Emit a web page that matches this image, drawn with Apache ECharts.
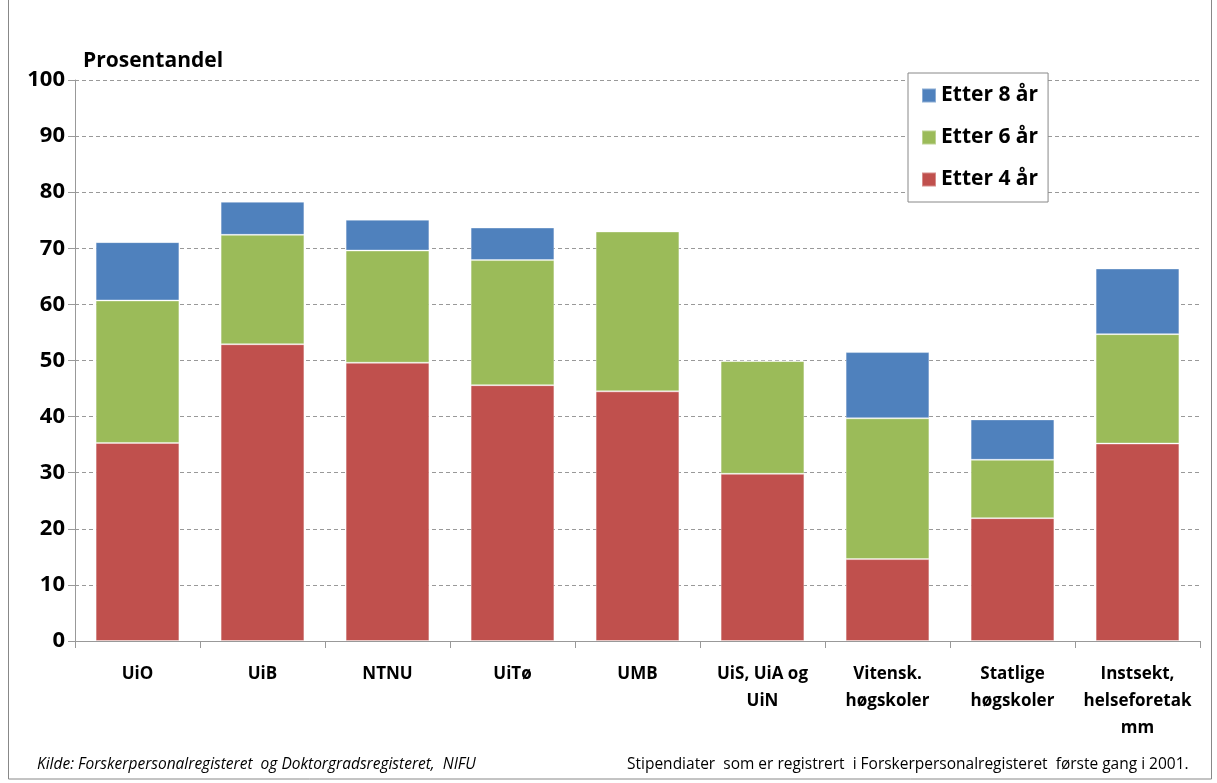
<!DOCTYPE html>
<html><head><meta charset="utf-8">
<script src="https://cdn.jsdelivr.net/npm/echarts@6/dist/echarts.min.js"></script>
<style>html,body{margin:0;padding:0;background:#fff}#c{width:1217px;height:783px}</style>
</head><body><div id="c"></div>
<script>
const categories = ['UiO','UiB','NTNU','UiTø','UMB','UiS, UiA og\nUiN','Vitensk.\nhøgskoler','Statlige\nhøgskoler','Instsekt,\nhelseforetak\nmm'];
const etter4 = [35.3, 52.9, 49.6, 45.6, 44.5, 29.8, 14.6, 21.9, 35.2];
const etter6 = [25.4, 19.5, 20.0, 22.3, 28.5, 20.1, 25.1, 10.4, 19.5];
const etter8 = [10.4, 5.9, 5.5, 5.8, 0, 0, 11.8, 7.2, 11.7];
const yTicks = [0,10,20,30,40,50,60,70,80,90,100];

const font = 'Open Sans, Liberation Sans, sans-serif';
const chart = echarts.init(document.getElementById('c'));
const bar = (name, data, color) => ({
  name, type: 'bar', stack: 's', data, barWidth: '67%',
  itemStyle: { color, borderColor: 'rgba(255,255,255,0.35)', borderWidth: 1 },
  emphasis: { disabled: true }
});
chart.setOption({
  animation: false,
  grid: { left: 75, right: 17, top: 80, bottom: 142 },
  title: { text: 'Prosentandel', left: 78, top: 46,
    textStyle: { fontFamily: font, fontWeight: 'bold', fontSize: 21, color: '#000' } },
  legend: {
    data: ['Etter 8 år','Etter 6 år','Etter 4 år'],
    orient: 'vertical', left: 908, top: 73,
    padding: [12, 10, 12, 13], itemGap: 21, itemWidth: 14, itemHeight: 14,
    backgroundColor: '#fff', borderColor: '#888', borderWidth: 1,
    icon: 'rect',
    textStyle: { fontFamily: font, fontWeight: 'bold', fontSize: 21, color: '#000' }
  },
  xAxis: {
    type: 'category', data: categories,
    axisLine: { lineStyle: { color: '#999' } },
    axisTick: { show: true, length: 7, lineStyle: { color: '#999' } },
    axisLabel: { interval: 0, margin: 20, lineHeight: 27,
      fontFamily: font, fontWeight: 'bold', fontSize: 17, color: '#000' }
  },
  yAxis: {
    type: 'value', min: 0, max: 100, interval: 10,
    axisLine: { show: true, lineStyle: { color: '#999' } },
    axisTick: { show: true, length: 7, lineStyle: { color: '#999' } },
    axisLabel: { margin: 10, fontFamily: font, fontWeight: 'bold', fontSize: 22, color: '#000',
      formatter: v => yTicks.includes(v) ? String(v) : '' },
    splitLine: { lineStyle: { color: '#999', type: [4, 3] } }
  },
  series: [
    bar('Etter 4 år', etter4, '#C0504D'),
    bar('Etter 6 år', etter6, '#9BBB59'),
    bar('Etter 8 år', etter8, '#4F81BD')
  ],
  graphic: [
    { type: 'rect', shape: { x: 8.5, y: -5, width: 1203, height: 784 },
      style: { fill: 'none', stroke: '#888', lineWidth: 1 }, silent: true },
    { type: 'text', left: 37, top: 757,
      style: { text: 'Kilde: Forskerpersonalregisteret  og Doktorgradsregisteret,  NIFU',
        fontFamily: font, fontStyle: 'italic', fontSize: 15.5, fill: '#000' } },
    { type: 'text', left: 627, top: 757,
      style: { text: 'Stipendiater  som er registrert  i Forskerpersonalregisteret  første gang i 2001.',
        fontFamily: font, fontSize: 15.5, fill: '#000' } }
  ]
});
</script></body></html>
